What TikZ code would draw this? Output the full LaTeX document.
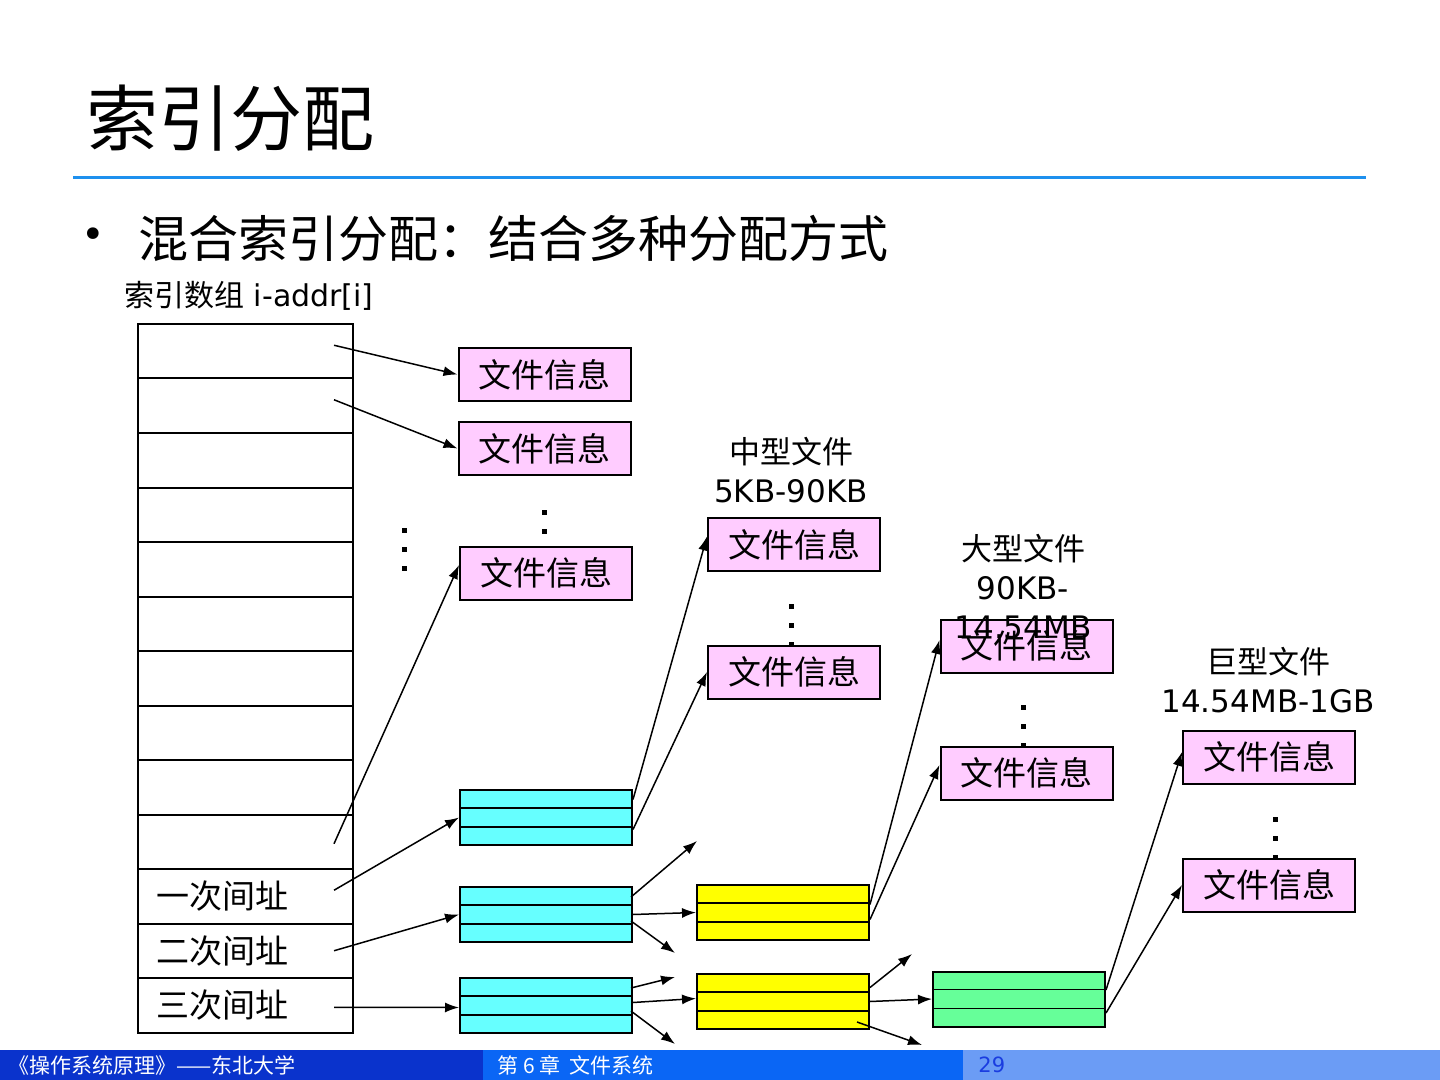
\documentclass[tikz,border=0pt]{standalone}
\usepackage{fontspec}
\setmainfont{DejaVu Sans}
\newfontfamily\cjk{Noto Sans CJK SC}
\usetikzlibrary{arrows.meta,calc,positioning}
\definecolor{rulecol}{HTML}{1E90EE}
\definecolor{infopink}{HTML}{FFCCFF}
\definecolor{lvlcyan}{HTML}{66FFFF}
\definecolor{lvlyellow}{HTML}{FFFF00}
\definecolor{lvlgreen}{HTML}{66FF99}
\definecolor{footA}{HTML}{0A33CC}
\definecolor{footB}{HTML}{0A66F5}
\definecolor{footC}{HTML}{6B9CF5}
\definecolor{pagenum}{HTML}{1A3DE0}

\begin{document}
\begin{tikzpicture}[x=0.5pt,y=-0.5pt,
  info/.style={draw,line width=1pt,fill=infopink,minimum width=86pt,minimum height=26.5pt,inner sep=0pt,font=\cjk\fontsize{16.5}{18}\selectfont},
  cell/.style={draw,line width=1pt,minimum width=107.5pt,minimum height=27.25pt,inner sep=0pt},
  stack/.style={draw,line width=1pt,minimum width=86pt,minimum height=27.5pt,inner sep=0pt},
  sizelbl/.style={align=center,inner sep=0pt,font=\fontsize{15.5}{19.5}\selectfont},
  addr/.style={inner sep=0pt,font=\cjk\fontsize{16.5}{18}\selectfont},
  link/.style={-{Latex[length=7pt,width=5pt]},line width=0.75pt}]
\useasboundingbox (0,0) rectangle (1440,1080);

\node[anchor=west,inner sep=0pt,font=\cjk\fontsize{36}{40}\selectfont] (title) at (86,118) {索引分配};
\draw[rulecol,line width=1.5pt] (73,178) -- (1366,178);
\node[inner sep=0pt,font=\fontsize{20}{22}\selectfont] (bul) at (93,238) {•};
\node[anchor=west,inner sep=0pt,font=\cjk\fontsize{25}{28}\selectfont] (head) at (138,238) {混合索引分配：结合多种分配方式};
\node[anchor=west,inner sep=0pt,font=\fontsize{15}{17}\selectfont] (arrlbl) at (124,296) {{\cjk 索引数组} i-addr[i]};

\foreach \i in {1,...,13}
  \node[cell] (r\i) at (245.5,{324+54.5*(\i-0.5)}) {};
\node[addr,right=9.5pt of r11.west] (a11) {一次间址};
\node[addr,right=9.5pt of r12.west] (a12) {二次间址};
\node[addr,right=9.5pt of r13.west] (a13) {三次间址};

\foreach \x/\y in {404/530,404/549,404/568,544/512,544/531,791/606,791/625,791/644,1023/707,1023/726,1023/745,1275/819,1275/838,1275/857}
  \fill (\x-2.5,\y-2.5) rectangle ++(5,5);

\node[info] (f1) at (544.5,374.5) {文件信息};
\node[info] (f2) at (544.5,448.5) {文件信息};
\node[info] (f3) at (546,573) {文件信息};
\node[info] (m1) at (794,544.5) {文件信息};
\node[info] (m2) at (794,672) {文件信息};
\node[info] (l1) at (1026.5,646) {文件信息};
\node[info] (l2) at (1026.5,773) {文件信息};
\node[info] (h1) at (1269,757) {文件信息};
\node[info] (h2) at (1269,885) {文件信息};

\node[sizelbl] (mlab) at (791,470) {{\cjk 中型文件}\\5KB-90KB};
\node[sizelbl] (llab) at (1023,587) {{\cjk 大型文件}\\90KB-\\14.54MB};
\node[sizelbl] (hlab) at (1268,680) {{\cjk 巨型文件}\\14.54MB-1GB};

\node[stack,fill=lvlcyan] (c1) at (546,817.5) {};
\node[stack,fill=lvlcyan] (c2) at (546,914.5) {};
\node[stack,fill=lvlcyan] (c3) at (546,1005.5) {};
\node[stack,fill=lvlyellow] (y1) at (783,912.5) {};
\node[stack,fill=lvlyellow] (y2) at (783,1001.5) {};
\node[stack,fill=lvlgreen] (g1) at (1019,999) {};
\foreach \b in {c1,c2,c3,y1,y2,g1}
  \foreach \k in {1/3,2/3}
    \draw[line width=0.9pt] ($(\b.north west)!\k!(\b.south west)$) -- ($(\b.north east)!\k!(\b.south east)$);

\coordinate (c2up) at (697,841);
\coordinate (c2dn) at (675,953);
\coordinate (c3up) at (675,977);
\coordinate (c3dn) at (675,1044);
\coordinate (y2up) at (912,954);
\coordinate (y2dn) at (922,1045);

\draw[link] ([xshift=-10pt,yshift=3pt]r1.east) -- (f1.west);
\draw[link] ([xshift=-10pt,yshift=3pt]r2.east) -- (f2.west);
\draw[link] ([xshift=-10pt,yshift=-1pt]r10.east) -- ([yshift=4pt]f3.west);
\draw[link] ([xshift=-10pt,yshift=3pt]r11.east) -- (c1.west);
\draw[link] ([xshift=-10pt]r12.east) -- (c2.west);
\draw[link] ([xshift=-10pt,yshift=-1pt]r13.east) -- ([yshift=-1pt]c3.west);

\draw[link] ([yshift=9pt]c1.east) -- ([yshift=4pt]m1.west);
\draw[link] ([yshift=-6pt]c1.east) -- (m2.west);
\draw[link] ([xshift=-1pt,yshift=8.75pt]c2.east) -- (c2up);
\draw[link] (c2.east) -- (y1.west);
\draw[link] ([xshift=-1pt,yshift=-3.25pt]c2.east) -- (c2dn);
\draw[link] ([xshift=-1pt,yshift=8.75pt]c3.east) -- (c3up);
\draw[link] ([yshift=1.5pt]c3.east) -- ([yshift=1.5pt]y2.west);
\draw[link] ([xshift=-1pt,yshift=-2.75pt]c3.east) -- (c3dn);

\draw[link] ([yshift=4pt]y1.east) -- ([yshift=3pt]l1.west);
\draw[link] ([yshift=-3.5pt]y1.east) -- ([yshift=4pt]l2.west);
\draw[link] ([yshift=7pt]y2.east) -- (y2up);
\draw[link] (y2.east) -- (g1.west);
\draw[link] ([xshift=-6.5pt,yshift=-10.25pt]y2.east) -- (y2dn);

\draw[link] ([yshift=4.5pt]g1.east) -- ([yshift=2.5pt]h1.west);
\draw[link] ([yshift=-7pt]g1.east) -- (h2.west);

\fill[footA] (0,1050) rectangle (483,1080);
\fill[footB] (483,1050) rectangle (963,1080);
\fill[footC] (963,1050) rectangle (1440,1080);
\node[anchor=west,inner sep=0pt,text=white,font=\cjk\fontsize{10.5}{12}\selectfont] (foot1) at (8,1065) {《操作系统原理》——东北大学};
\node[anchor=west,inner sep=0pt,text=white,font=\cjk\fontsize{10.5}{12}\selectfont] (foot2) at (497,1065) {第 6 章\ \ 文件系统};
\node[anchor=west,inner sep=0pt,text=pagenum,font=\fontsize{10.5}{12}\selectfont] (foot3) at (978,1065) {29};
\end{tikzpicture}
\end{document}
